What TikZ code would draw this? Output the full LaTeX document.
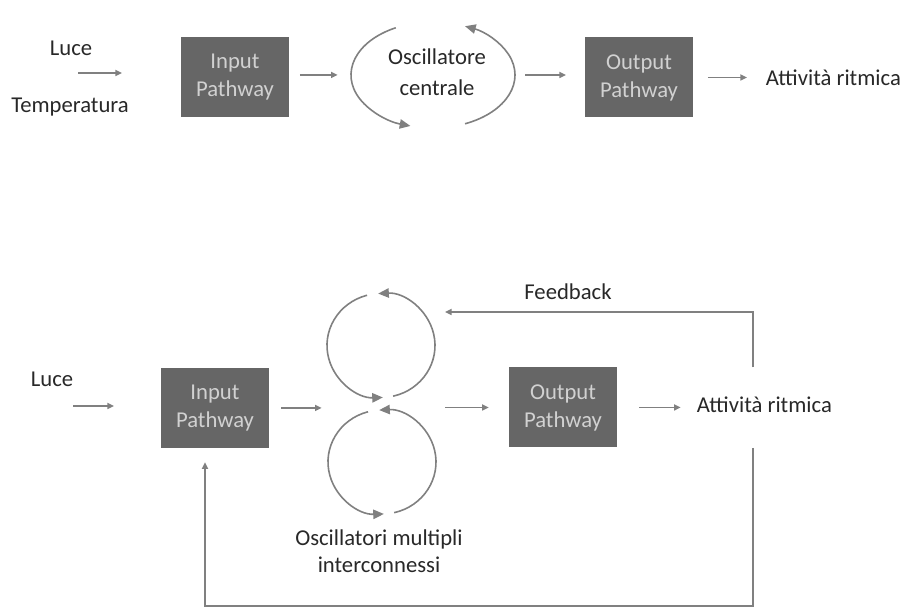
\documentclass[tikz,border=0pt]{standalone}
\usepackage{fontspec}
\setmainfont{Carlito}
\usetikzlibrary{arrows.meta}
\usetikzlibrary{shapes.geometric}
\definecolor{freccia}{RGB}{128,128,128}
\definecolor{scatola}{RGB}{102,102,102}
\definecolor{testo}{RGB}{40,40,40}
\colorlet{testo-chiaro}{white!82!black}

\begin{document}
\begin{tikzpicture}[x=0.75pt, y=0.75pt,
    linea/.style={draw=freccia, line width=1.2pt, -{Triangle[length=5pt, width=4.5pt]}},
    ciclo/.style={draw=freccia, line width=1.2pt, -{Triangle[length=8pt, width=7pt]}},
    blocco/.style={fill=scatola, text=testo-chiaro, minimum width=81pt, minimum height=60pt, align=center, font=\fontsize{17}{21}\selectfont},
    etichetta/.style={text=testo, align=center, inner sep=2pt, font=\fontsize{17}{20}\selectfont},
    oscillatore/.style={ellipse, inner sep=0pt, outer sep=0pt}]

    \useasboundingbox (0,0) rectangle (904,613);

    % modello con un oscillatore centrale
    \node[etichetta] (luceA) at (71,565) {Luce};
    \node[etichetta] (tempA) at (70,506) {Temperatura};
    \coordinate (inA) at (78,540);
    \node[blocco] (inputA) at (235,535.5) {Input\\Pathway};
    \node[oscillatore, minimum width=123pt, minimum height=79.5pt] (oscA) at (433,538) {};
    \node[etichetta, font=\fontsize{17}{23}\selectfont] (testoA) at (437,540.5) {Oscillatore\\centrale};
    \node[blocco] (outputA) at (639,535.5) {Output\\Pathway};
    \node[etichetta, anchor=west] (attA) at (763,535) {Attività ritmica};

    \draw[linea, shorten >=44pt] (inA) -- (inA -| inputA.west);
    \draw[linea, shorten <=8pt, shorten >=10pt] (inputA.east |- oscA) -- (oscA.west);
    \draw[linea, shorten <=7.5pt, shorten >=14pt] (oscA.east) -- (oscA.east -| outputA.west);
    \draw[linea, shorten <=11pt, shorten >=12pt] (outputA.east) -- (outputA.east -| attA.west);
    \draw[ciclo] ([shift={(117:82 and 53)}]oscA.center) arc[start angle=117, end angle=254, x radius=82, y radius=53];
    \draw[ciclo] ([shift={(-67:82 and 53)}]oscA.center) arc[start angle=-67, end angle=67, x radius=82, y radius=53];

    % modello con oscillatori multipli e feedback
    \node[etichetta] (luceB) at (52,234) {Luce};
    \coordinate (inB) at (73,207);
    \node[blocco] (inputB) at (215,205) {Input\\Pathway};
    \node[oscillatore, minimum width=81pt, minimum height=78pt] (oscB1) at (381,267.5) {};
    \node[oscillatore, minimum width=81pt, minimum height=78pt] (oscB2) at (382,151) {};
    \node[etichetta] (testoB) at (379,61.5) {Oscillatori multipli\\interconnessi};
    \node[blocco] (outputB) at (563,205.5) {Output\\Pathway};
    \node[etichetta, anchor=west] (attB) at (694,208) {Attività ritmica};
    \coordinate (feedback) at (753,301);
    \coordinate (ritorno) at (205,7);
    \node[etichetta] (testoFb) at (568,321) {Feedback};

    \draw[linea, shorten >=35pt] (inB) -- (inB -| inputB.west);
    \draw[linea, shorten <=9pt, shorten >=4pt] (inputB.east) -- (inputB.east -| oscB1.west);
    \draw[linea, shorten <=7.5pt, shorten >=15pt] (oscB1.east |- outputB.west) -- (outputB.west);
    \draw[linea, shorten <=16.5pt, shorten >=10pt] (outputB.east) -- (outputB.east -| attB.west);
    \draw[linea, shorten <=20pt, shorten >=7.5pt] (attB.north -| feedback) |- (oscB1.east |- feedback);
    \draw[linea, shorten <=24pt, shorten >=10.5pt] (attB.south -| feedback) |- (ritorno) -- (ritorno |- inputB.south);

    \draw[ciclo] ([shift={(105:54 and 52)}]oscB1.center) arc[start angle=105, end angle=272, x radius=54, y radius=52];
    \draw[ciclo] ([shift={(-77:54 and 52)}]oscB1.center) arc[start angle=-77, end angle=93, x radius=54, y radius=52];
    \draw[ciclo] ([shift={(105:54 and 52)}]oscB2.center) arc[start angle=105, end angle=272, x radius=54, y radius=52];
    \draw[ciclo] ([shift={(-77:54 and 52)}]oscB2.center) arc[start angle=-77, end angle=93, x radius=54, y radius=52];

\end{tikzpicture}
\end{document}
